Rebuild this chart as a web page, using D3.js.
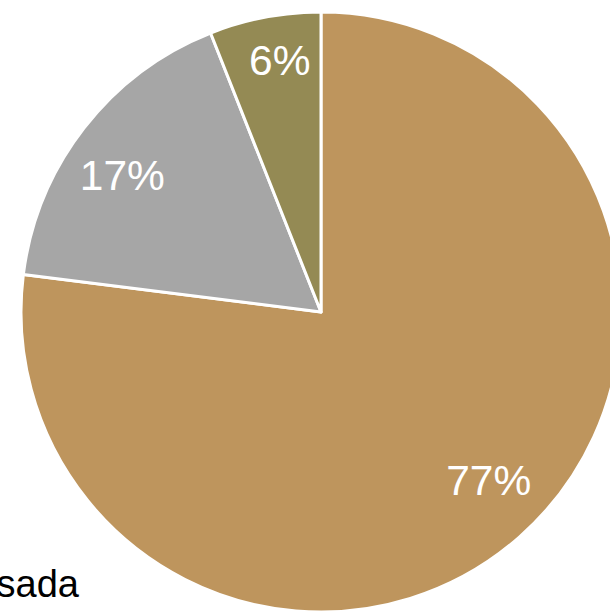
<!DOCTYPE html>
<html><head><meta charset="utf-8">
<script src="https://cdn.jsdelivr.net/npm/d3@7"></script>
<style>body{margin:0;background:#fff;overflow:hidden}svg{display:block}</style>
</head><body>
<script>
const categories = ["A", "B", "C"];
const values = [77, 17, 6];
const labels = ["77%", "17%", "6%"];
const colors = ["#BE955D", "#A6A6A6", "#948A54"];
const legendText = "sada";

const W = 610, H = 611, cx = 321, cy = 312, R = 300;
const svg = d3.select("body").append("svg").attr("width", W).attr("height", H);
const g = svg.append("g").attr("transform", `translate(${cx},${cy})`);
const pie = d3.pie().sort(null).value(d => d)(values);
const arc = d3.arc().innerRadius(0).outerRadius(R);
g.selectAll("path").data(pie).join("path")
  .attr("d", arc)
  .attr("fill", (d, i) => colors[i])
  .attr("stroke", "#fff").attr("stroke-width", 3).attr("stroke-linejoin", "round");
// label layout: radius fraction and pixel nudges
const lr = [0.8, 0.8, 0.84];
const nudge = [[9, -12], [-9, 10], [6, -4.5]];
g.selectAll("text").data(pie).join("text")
  .attr("transform", (d, i) => {
    const a = (d.startAngle + d.endAngle) / 2;
    const r = R * lr[i];
    return `translate(${r * Math.sin(a) + nudge[i][0]},${-r * Math.cos(a) + nudge[i][1]})`;
  })
  .attr("text-anchor", "middle").attr("dy", "0.36em")
  .attr("fill", "#fff")
  .style("font-family", "'Liberation Sans', Arial, sans-serif").style("font-size", "42.5px")
  .text((d, i) => labels[i]);
svg.append("text").attr("x", 79).attr("y", 597).attr("text-anchor", "end")
  .style("font-family", "'Liberation Sans', Arial, sans-serif").style("font-size", "38px")
  .attr("fill", "#000").text(legendText);
</script>
</body></html>
